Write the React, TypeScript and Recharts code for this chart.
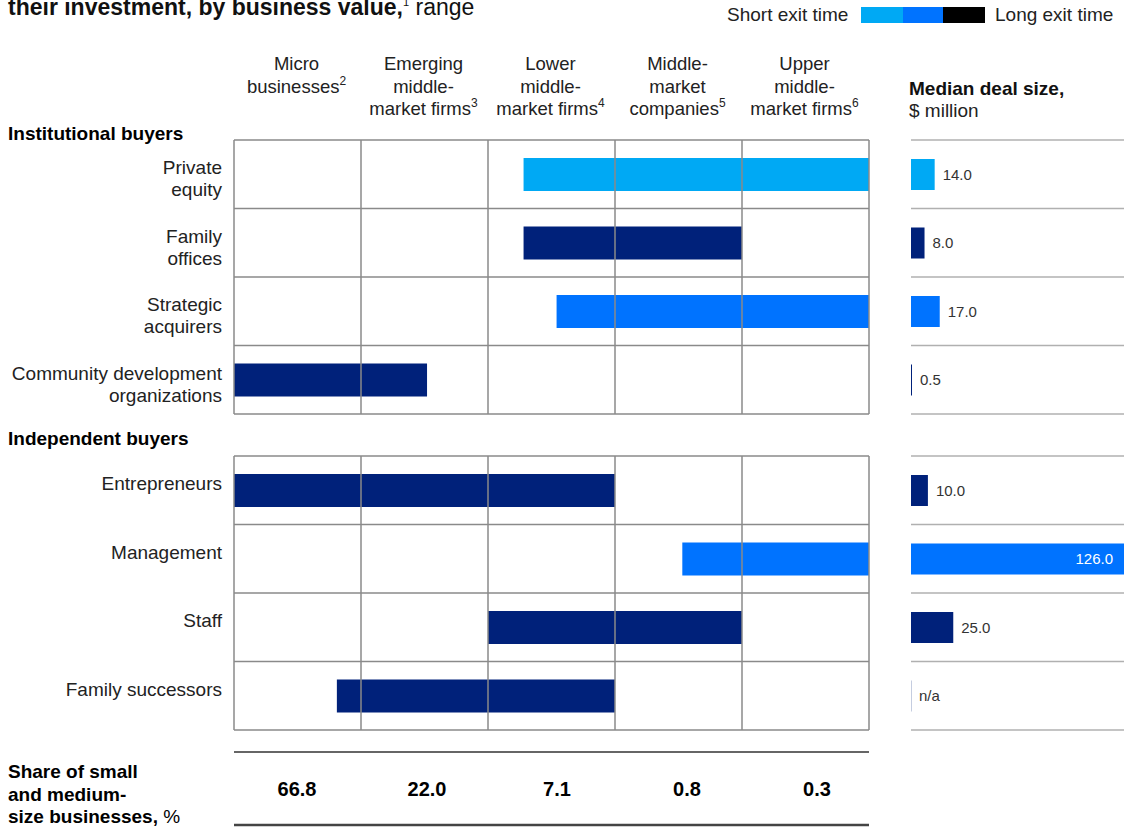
import { Bar, BarChart, CartesianGrid, Cell, XAxis, YAxis } from "recharts"

const FONT = "'Liberation Sans', Arial, sans-serif"
const TEXT = "#222"

// column headers (business value bands) and footnote numbers
const businessSizes = [
  "Micro\nbusinesses",
  "Emerging\nmiddle-\nmarket firms",
  "Lower\nmiddle-\nmarket firms",
  "Middle-\nmarket\ncompanies",
  "Upper\nmiddle-\nmarket firms",
]
const sizeNotes = ["2", "3", "4", "5", "6"]
const shareOfBusinesses = [66.8, 22.0, 7.1, 0.8, 0.3]

const institutionalBuyers = ["Private\nequity", "Family\noffices", "Strategic\nacquirers", "Community development\norganizations"]
const institutionalFrom = [2.28, 2.28, 2.54, 0]
const institutionalTo = [5, 4, 5, 1.52]
const institutionalExit = ["short", "long", "medium", "long"]
const institutionalDealSize: (number | null)[] = [14.0, 8.0, 17.0, 0.5]

const independentBuyers = ["Entrepreneurs", "Management", "Staff", "Family successors"]
const independentFrom = [0, 3.53, 2, 0.81]
const independentTo = [3, 5, 4, 3]
const independentExit = ["long", "medium", "long", "long"]
const independentDealSize: (number | null)[] = [10.0, 126.0, 25.0, null]

const exitColors: Record<string, string> = { short: "#00A9F4", medium: "#0073FF", long: "#00217A" }

const rowLines = ({ offset }: any) => [0, 1, 2, 3, 4].map(i => offset.top + (i * offset.height) / 4)

const BuyerTick = ({ y, payload }: any) => {
  const lines = String(payload.value).split("\n")
  return (
    <text x={222} y={y} textAnchor="end" fontSize={19} fill={TEXT} fontFamily={FONT}>
      {lines.map((l, i) => (
        <tspan key={i} x={222} dy={i === 0 ? 0 : 22}>
          {l}
        </tspan>
      ))}
    </text>
  )
}

const HeaderTick = ({ x, payload, index }: any) => {
  const lines = String(payload.value).split("\n")
  return (
    <text textAnchor="middle" fontSize={18.5} fill={TEXT} fontFamily={FONT}>
      {lines.map((l, i) => (
        <tspan key={i} x={x - 1} y={70 + i * 22.5}>
          {l}
          {i === lines.length - 1 && (
            <tspan dy={-8} fontSize={12}>
              {sizeNotes[index]}
            </tspan>
          )}
        </tspan>
      ))}
    </text>
  )
}

const HeaderRow = () => {
  const cols = businessSizes.map((name, i) => ({ name, share: shareOfBusinesses[i] }))
  return (
    <div style={{ position: "absolute", left: 0, top: 0 }}>
      <BarChart width={880} height={140} data={cols} margin={{ top: 0, right: 11, bottom: 0, left: 234 }}>
        <XAxis dataKey="name" orientation="top" height={138} axisLine={false} tickLine={false} interval={0} tick={<HeaderTick />} />
        <YAxis hide />
        <Bar dataKey="share" fill="transparent" isAnimationActive={false} />
      </BarChart>
    </div>
  )
}

const GanttGroup = ({ labels, from, to, exit, top }: any) => {
  const rows = labels.map((name: string, i: number) => ({ name, range: [from[i], to[i]], exit: exit[i] }))
  return (
    <div style={{ position: "absolute", left: 0, top: top - 2 }}>
      <BarChart
        layout="vertical"
        width={880}
        height={278}
        data={rows}
        margin={{ top: 2, right: 11, bottom: 2, left: 0 }}
        barSize={33}
      >
        <XAxis type="number" domain={[0, 5]} ticks={[0, 1, 2, 3, 4, 5]} hide />
        <YAxis type="category" dataKey="name" width={234} axisLine={false} tickLine={false} tick={<BuyerTick />} />
        <Bar dataKey="range" isAnimationActive={false}>
          {rows.map((r: any, i: number) => (
            <Cell key={i} fill={exitColors[r.exit]} />
          ))}
        </Bar>
        <CartesianGrid stroke="#8a8a8a" strokeWidth={1.5} horizontalCoordinatesGenerator={rowLines} zIndex={1000} />
      </BarChart>
    </div>
  )
}

const DealShape = (props: any) => {
  const { x, y, width, height, payload } = props
  const mid = y + height / 2
  if (payload.missing) {
    return (
      <g>
        <rect x={x} y={y} width={1} height={height} fill="#c5cde0" />
        <text x={x + 8} y={mid + 5} fontSize={15} fill="#333" fontFamily={FONT}>
          n/a
        </text>
      </g>
    )
  }
  const w = Math.max(width, 1)
  const inside = w > 150
  return (
    <g>
      <rect x={x} y={y} width={w} height={height} fill={exitColors[payload.exit]} />
      <text
        x={inside ? x + w - 11 : x + w + 8}
        y={mid + 5}
        textAnchor={inside ? "end" : "start"}
        fontSize={15}
        fill={inside ? "#fff" : "#333"}
        fontFamily={FONT}
      >
        {payload.value.toFixed(1)}
      </text>
    </g>
  )
}

const DealPanel = ({ labels, values, exit, top }: any) => {
  const rows = values.map((v: number | null, i: number) => ({
    name: labels[i],
    value: v ?? 0,
    missing: v === null,
    exit: exit[i],
  }))
  return (
    <div style={{ position: "absolute", left: 900, top: top - 2 }}>
      <BarChart
        layout="vertical"
        width={231}
        height={278}
        data={rows}
        margin={{ top: 2, right: 7, bottom: 2, left: 11 }}
        barSize={31}
      >
        <CartesianGrid vertical={false} stroke="#b0b0b0" strokeWidth={1.5} horizontalCoordinatesGenerator={rowLines} />
        <XAxis type="number" domain={[0, 126]} hide />
        <YAxis type="category" dataKey="name" hide />
        <Bar dataKey="value" shape={<DealShape />} isAnimationActive={false} />
      </BarChart>
    </div>
  )
}

export default function App() {
  return (
    <div style={{ position: "absolute", left: 0, top: 0, width: 1131, height: 827, background: "#fff", overflow: "hidden", fontFamily: FONT }}>
      <svg width={1131} height={827} style={{ position: "absolute", left: 0, top: 0 }} fontFamily={FONT}>
        <text x={8} y={15} fontSize={23} fill="#111">
          <tspan fontWeight="bold">their investment, by business value,</tspan>
          <tspan dy={-9} fontSize={11}>1</tspan>
          <tspan dy={9}> range</tspan>
        </text>

        <text x={727} y={21} fontSize={19} fill={TEXT}>Short exit time</text>
        <rect x={861} y={7} width={42} height={16} fill={exitColors.short} />
        <rect x={903} y={7} width={40} height={16} fill={exitColors.medium} />
        <rect x={943} y={7} width={42} height={16} fill="#000" />
        <text x={995} y={21} fontSize={19} fill={TEXT}>Long exit time</text>

        <text x={909} y={95} fontSize={19} fontWeight="bold" fill="#111">Median deal size,</text>
        <text x={909} y={117} fontSize={19} fill={TEXT}>$ million</text>

        <text x={8} y={140} fontSize={19} fontWeight="bold" fill="#000">Institutional buyers</text>
        <text x={8} y={445} fontSize={19} fontWeight="bold" fill="#000">Independent buyers</text>

        <line x1={234} x2={869} y1={752} y2={752} stroke="#333" strokeWidth={1.5} />
        <line x1={234} x2={869} y1={825} y2={825} stroke="#444" strokeWidth={2.5} />
        <text fontSize={19} fontWeight="bold" fill="#000">
          <tspan x={8} y={778}>Share of small</tspan>
          <tspan x={8} y={801}>and medium-</tspan>
          <tspan x={8} y={823}>
            size businesses,<tspan fontWeight="normal"> %</tspan>
          </tspan>
        </text>
        {shareOfBusinesses.map((v, i) => (
          <text key={i} x={297 + i * 130} y={796} textAnchor="middle" fontSize={20} fontWeight="bold" fill="#000">
            {v.toFixed(1)}
          </text>
        ))}
      </svg>

      <HeaderRow />
      <GanttGroup labels={institutionalBuyers} from={institutionalFrom} to={institutionalTo} exit={institutionalExit} top={140} />
      <GanttGroup labels={independentBuyers} from={independentFrom} to={independentTo} exit={independentExit} top={456} />
      <DealPanel labels={institutionalBuyers} values={institutionalDealSize} exit={institutionalExit} top={140} />
      <DealPanel labels={independentBuyers} values={independentDealSize} exit={independentExit} top={456} />
    </div>
  )
}
